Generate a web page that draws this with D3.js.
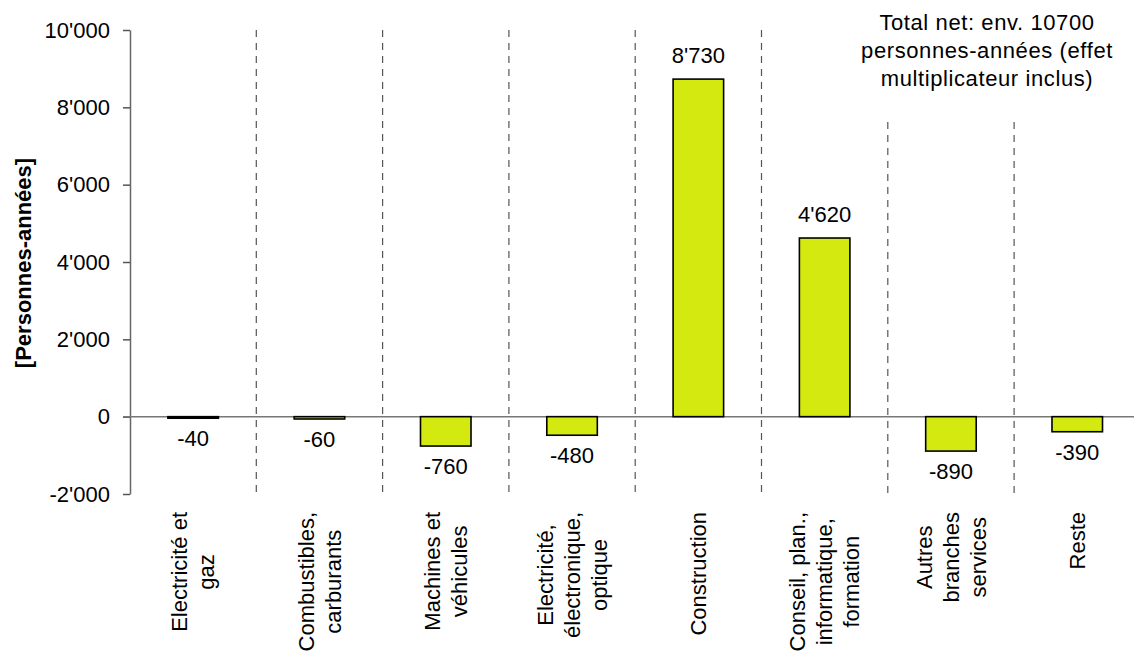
<!DOCTYPE html>
<html>
<head>
<meta charset="utf-8">
<script src="https://cdn.jsdelivr.net/npm/d3@7"></script>
<style>
  body { margin: 0; background: #fff; }
  svg { display: block; font-family: "Liberation Sans", Arial, sans-serif; }
</style>
</head>
<body>
<svg id="chart" width="1134" height="653"></svg>
<script>
// data
var categories = [
  ["Electricité et", "gaz"],
  ["Combustibles,", "carburants"],
  ["Machines et", "véhicules"],
  ["Electricité,", "électronique,", "optique"],
  ["Construction"],
  ["Conseil, plan.,", "informatique,", "formation"],
  ["Autres", "branches", "services"],
  ["Reste"]
];
var values = [-40, -60, -760, -480, 8730, 4620, -890, -390];
var yTicks = [-2000, 0, 2000, 4000, 6000, 8000, 10000];
var yTitle = "[Personnes-années]";
var note = ["Total net: env. 10700", "personnes-années (effet", "multiplicateur inclus)"];

var fs = 22;
var barColor = "#d3e910";

var svg = d3.select("#chart");

var x = d3.scaleBand()
  .domain(d3.range(categories.length))
  .range([130, 130 + 8 * 126.3])
  .padding(0);

var y = d3.scaleLinear().domain([-2000, 10000]).range([494, 30]);

var loc = d3.formatLocale({ decimal: ".", thousands: "'", grouping: [3], currency: ["", ""], minus: "-" });
var fmt = loc.format(",d");

// dashed separators (the last two stop under the note)
var sep = d3.range(1, categories.length);
svg.selectAll(".sep")
  .data(sep)
  .enter().append("line")
  .attr("class", "sep")
  .attr("x1", function(i) { return x(i); })
  .attr("x2", function(i) { return x(i); })
  .attr("y1", function(i) { return i >= 6 ? 122 : y(10000); })
  .attr("y2", y(-2000))
  .attr("stroke", "#555")
  .attr("stroke-width", 1.2)
  .attr("stroke-dasharray", "7,6");

// y axis
var yAxis = d3.axisLeft(y)
  .tickValues(yTicks)
  .tickFormat(fmt)
  .tickSize(7)
  .tickSizeOuter(0)
  .tickPadding(13);

var gy = svg.append("g")
  .attr("transform", "translate(130,0)")
  .call(yAxis);
gy.select(".domain").attr("stroke", "#666").attr("stroke-width", 1.5);
gy.selectAll(".tick line").attr("stroke", "#555").attr("stroke-width", 1.5);
gy.selectAll(".tick text")
  .attr("font-size", fs)
  .attr("font-family", "Liberation Sans, Arial, sans-serif")
  .attr("fill", "#000");

// zero line
svg.append("line")
  .attr("x1", 123).attr("x2", 1134)
  .attr("y1", y(0)).attr("y2", y(0))
  .attr("stroke", "#777")
  .attr("stroke-width", 1.5);

// bars
var bw = x.bandwidth() * 0.4;
svg.selectAll(".bar")
  .data(values)
  .enter().append("rect")
  .attr("class", "bar")
  .attr("x", function(d, i) { return x(i) + (x.bandwidth() - bw) / 2; })
  .attr("y", function(d) { return y(Math.max(0, d)); })
  .attr("width", bw)
  .attr("height", function(d) { return Math.abs(y(d) - y(0)); })
  .attr("fill", barColor)
  .attr("stroke", "#000")
  .attr("stroke-width", 1.6);

// value labels
svg.selectAll(".val")
  .data(values)
  .enter().append("text")
  .attr("class", "val")
  .attr("x", function(d, i) { return x(i) + x.bandwidth() / 2; })
  .attr("y", function(d) { return d >= 0 ? y(d) - 16 : y(d) + 28; })
  .attr("text-anchor", "middle")
  .attr("font-size", fs)
  .text(function(d) { return fmt(d); });

// category labels, rotated, top-aligned, lines centred on each other
var lh = 27;
var labs = svg.selectAll(".cat")
  .data(categories)
  .enter().append("g")
  .attr("class", "cat")
  .attr("transform", function(d, i) {
    return "translate(" + (x(i) + x.bandwidth() / 2) + ",512) rotate(-90)";
  });

labs.each(function(lines) {
  var g = d3.select(this);
  var n = lines.length;
  var texts = g.selectAll("text")
    .data(lines)
    .enter().append("text")
    .attr("font-size", fs)
    .attr("text-anchor", "middle")
    .attr("y", function(d, k) { return (k - (n - 1) / 2) * lh + fs * 0.35; })
    .text(function(d) { return d; });
  var w = 0;
  texts.each(function() { w = Math.max(w, this.getComputedTextLength()); });
  texts.attr("x", -w / 2);
});

// y title
svg.append("text")
  .attr("transform", "translate(31,263) rotate(-90)")
  .attr("text-anchor", "middle")
  .attr("font-size", fs)
  .attr("font-weight", "bold")
  .text(yTitle);

// note
svg.append("g").selectAll("text")
  .data(note)
  .enter().append("text")
  .attr("x", 987)
  .attr("y", function(d, i) { return 30 + i * 28; })
  .attr("text-anchor", "middle")
  .attr("font-size", fs)
  .attr("letter-spacing", 0.6)
  .text(function(d) { return d; });
</script>
</body>
</html>
